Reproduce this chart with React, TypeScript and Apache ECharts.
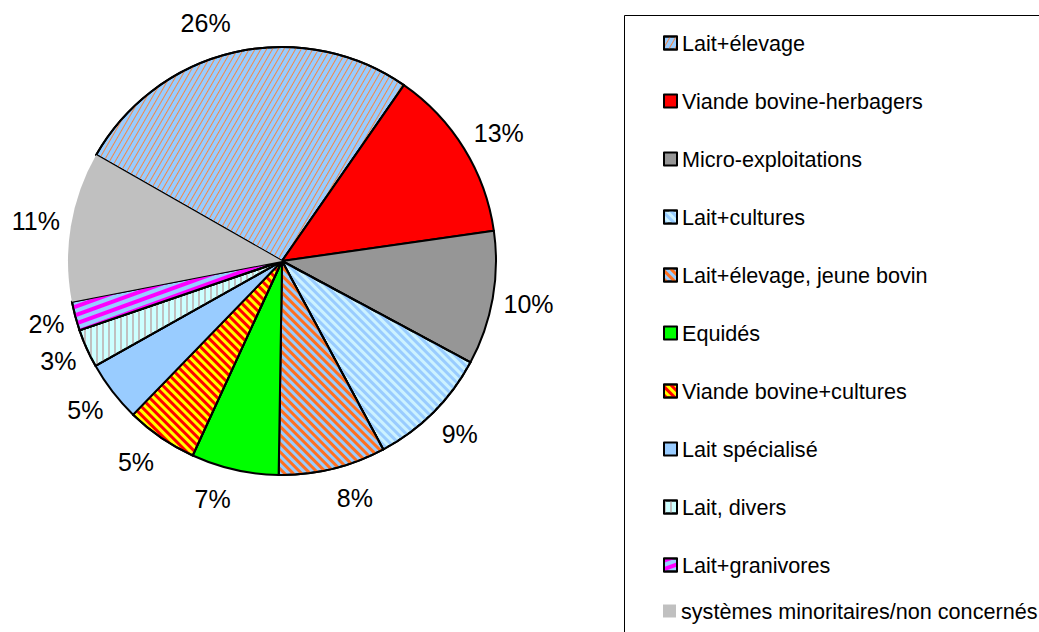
import React, { useEffect, useRef } from "react";
import * as echarts from "echarts";

const categories = [
  "Lait+élevage",
  "Viande bovine-herbagers",
  "Micro-exploitations",
  "Lait+cultures",
  "Lait+élevage, jeune bovin",
  "Equidés",
  "Viande bovine+cultures",
  "Lait spécialisé",
  "Lait, divers",
  "Lait+granivores",
  "systèmes minoritaires/non concernés",
];
const values = [26.4, 13.1, 10.1, 9.3, 8.1, 6.6, 5.4, 4.6, 2.9, 2.2, 11.3];

const baseColors = [
  "#99CCFF",
  "#FF0000",
  "#969696",
  "#CCF2FF",
  "#99CCFF",
  "#00FF00",
  "#FFFF00",
  "#99CCFF",
  "#CCFFFF",
  "#99CCFF",
  "#C0C0C0",
];

const decals: any[] = [
  { symbol: "rect", symbolSize: 1, color: "#F08848", dashArrayX: [1, 0], dashArrayY: [1, 3.5], rotation: -Math.PI / 3 },
  null,
  null,
  { symbol: "rect", symbolSize: 1, color: "#99CCFF", dashArrayX: [1, 0], dashArrayY: [2.5, 2.5], rotation: Math.PI / 4 },
  { symbol: "rect", symbolSize: 1, color: "#FF7020", dashArrayX: [1, 0], dashArrayY: [3, 3], rotation: Math.PI / 4 },
  null,
  { symbol: "rect", symbolSize: 1, color: "#FF0000", dashArrayX: [1, 0], dashArrayY: [3, 3], rotation: Math.PI / 4 },
  null,
  { symbol: "rect", symbolSize: 1, color: "#C0C0C0", dashArrayX: [2, 3.7], dashArrayY: [1, 0], rotation: 0 },
  { symbol: "rect", symbolSize: 1, color: "#FF00FF", dashArrayX: [1, 0], dashArrayY: [4, 4], rotation: -Math.PI / 9 },
  null,
];

const FONT = "'Liberation Sans', Arial, sans-serif";
const START_ANGLE = 150.3;

export default function App() {
  const ref = useRef<HTMLDivElement>(null);
  useEffect(() => {
    if (!ref.current) return;
    const chart = echarts.init(ref.current, undefined, { renderer: "svg" });
    const total = values.reduce((a, b) => a + b, 0);
    let cum = 0;
    const midCos: number[] = [];
    const data = categories.map((name, i) => {
      const midFrac = (cum + values[i] / 2) / total;
      cum += values[i];
      // mid angle of the slice, clockwise from 12 o'clock
      const mid = (90 - START_ANGLE) * (Math.PI / 180) + midFrac * 2 * Math.PI;
      midCos.push(Math.cos(mid));
      const item: any = {
        name,
        value: values[i],
        itemStyle: {
          color: baseColors[i],
          borderColor: "#000",
          borderWidth: i === categories.length - 1 ? 0 : 2,
        },
      };
      if (decals[i]) item.itemStyle.decal = decals[i];
      return item;
    });
    chart.setOption({
      animation: false,
      backgroundColor: "#fff",
      graphic: [
        {
          type: "rect",
          shape: { x: 624.5, y: 15.5, width: 600, height: 700 },
          style: { fill: "none", stroke: "#000", lineWidth: 1 },
          silent: true,
        },
      ],
      legend: [
        {
          orient: "vertical",
          left: 663,
          top: 32,
          padding: 0,
          itemWidth: 13,
          itemHeight: 13,
          itemGap: 36,
          icon: "rect",
          selectedMode: false,
          data: categories.slice(0, 10),
          textStyle: { fontSize: 21.6, fontFamily: FONT, color: "#000", lineHeight: 22 },
        },
        {
          orient: "vertical",
          left: 663,
          top: 600,
          padding: 0,
          itemWidth: 13,
          itemHeight: 13,
          icon: "rect",
          selectedMode: false,
          data: categories.slice(10),
          textStyle: { fontSize: 21.6, fontFamily: FONT, color: "#000", lineHeight: 22 },
        },
      ],
      series: [
        {
          type: "pie",
          center: [282, 261],
          radius: 214,
          startAngle: START_ANGLE,
          clockwise: true,
          avoidLabelOverlap: false,
          data,
          label: {
            show: true,
            position: "outside",
            formatter: (p: any) => Math.round(p.percent) + "%",
            fontSize: 25,
            fontFamily: FONT,
            color: "#000",
            distanceToLabelLine: 2,
            overflow: "none",
            edgeDistance: 0,
          },
          labelLine: { show: false, length: 9, length2: 0 },
          labelLayout: (params: any) => ({ dy: -midCos[params.dataIndex] * 21 }),
          emphasis: { disabled: true },
        },
      ],
    });
    return () => chart.dispose();
  }, []);
  return (
    <div
      ref={ref}
      style={{ position: "fixed", left: 0, top: 0, width: 1039, height: 632 }}
    />
  );
}
